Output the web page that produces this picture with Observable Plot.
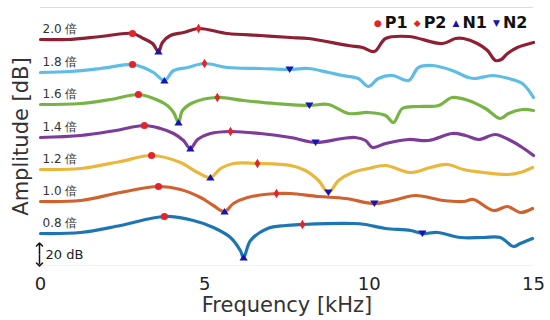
<!DOCTYPE html>
<html><head><meta charset="utf-8">
<script src="https://cdn.jsdelivr.net/npm/d3@7"></script>
<script src="https://cdn.jsdelivr.net/npm/@observablehq/plot@0.6"></script>
<style>
body{margin:0;background:#fff;font-family:"DejaVu Sans",sans-serif;}
#wrap{position:relative;width:550px;height:320px;overflow:hidden;}
#legend{position:absolute;top:13px;left:374px;font:bold 16px "DejaVu Sans",sans-serif;color:#111;white-space:nowrap;display:flex;align-items:center;}
#legend .sym{font-size:9px;margin-right:3px;}
#legend .nm{margin-right:6px;}
</style></head><body><div id="wrap"></div>
<script>
// ---- data (frequency kHz, amplitude dB as stacked in the figure) ----
const seriesLabels = ["0.8 倍","1.0 倍","1.2 倍","1.4 倍","1.6 倍","1.8 倍","2.0 倍"];

const f08 = [0,1.22,2.43,3.77,4.65,5.26,5.78,6.08,6.18,6.39,6.91,7.45,7.97,9.49,9.89,10.50,11.26,11.62,12.08,12.78,13.48,13.99,14.39,14.60,14.97];
const a08 = [32,33,40,49,45,38,28,15,8,25,37,40,41,42,41,37,35,32,33,28,28,28,19,22,27];

const f10 = [0,1.22,2.43,3.59,4.26,4.87,5.26,5.60,5.87,6.30,7.18,7.61,8.46,9.28,10.16,10.71,11.41,12.26,12.87,13.17,13.78,14.21,14.60,14.97];
const a10 = [64,65,73,79,76,68,60,54,62,68,72,72,69,67,62,65,70,65,64,66,55,59,53,57];

const f12 = [0,1.22,2.43,3.38,4.26,4.78,5.17,5.48,5.87,6.60,7.61,8.06,8.46,8.76,9.07,9.49,9.98,10.50,11.26,11.86,12.38,12.87,13.48,14.21,14.60,14.97];
const a12 = [96,97,104,110,103,93,88,97,102,102,100,95,85,73,85,93,97,100,93,98,101,96,93,91,93,98];

const f14 = [0,1.22,2.28,3.16,3.65,4.05,4.35,4.56,4.78,5.17,5.78,6.69,7.61,8.37,9.19,9.58,9.89,10.10,10.50,11.20,11.80,12.53,12.93,13.33,13.84,14.24,14.66,15.0];
const a14 = [128,130,135,140,137,132,125,117,126,132,134,132,128,123,127,128,125,118,122,126,125,132,130,126,131,126,118,110];

const f16 = [0,1.22,2.13,2.98,3.44,3.86,4.05,4.20,4.32,4.65,5.38,6.18,7.15,8.18,8.76,9.37,9.98,10.50,10.74,11.01,11.50,12.11,12.53,13.02,13.54,13.99,14.24,14.66,15.0];
const a16 = [161,162,166,171,167,160,153,143,155,163,168,165,162,160,161,152,153,150,143,157,159,160,168,165,157,147,152,156,155];

const f18 = [0,0.91,1.83,2.80,3.13,3.44,3.77,4.05,4.47,4.99,5.69,6.69,7.58,8.15,8.76,9.19,9.67,9.98,10.28,10.71,11.20,11.50,11.93,12.53,13.02,13.23,13.75,14.24,14.66,15.0];
const a18 = [193,194,197,201,198,193,185,195,198,202,198,197,196,197,193,190,187,179,187,190,185,198,200,195,188,187,190,187,182,168];

const f20 = [0,0.82,1.83,2.80,3.13,3.41,3.59,3.71,3.95,4.35,4.81,5.69,6.69,7.61,8.15,9.37,9.80,10.16,10.50,11.20,12.23,12.63,12.87,13.29,13.60,13.84,14.02,14.21,14.51,15.0];
const a20 = [226,226,229,232,227,222,214,223,230,233,237,232,230,228,227,220,218,214,227,229,222,227,227,222,215,205,206,212,218,223];

// characteristic points (kHz), per series in order 0.8 ... 2.0
const P1 = [3.77,3.59,3.38,3.16,2.98,2.80,2.80];
const P2 = [7.97,7.18,6.60,5.78,5.38,4.99,4.81];
const N1 = [6.18,5.60,5.17,4.56,4.20,3.77,3.59];
const N2 = [11.62,10.16,8.76,8.37,8.18,7.58,null];

const xTicks = [0,5,10,15];
const scaleBarDb = 20;
const yMax = 258;

// ---- styles ----
const lineColors = ["#1D76B3","#D0622F","#E9B73C","#7D3C98","#78B444","#5DBDE6","#8E1F35"];
const red = "#E3242B", blue = "#1515B5";

// ---- build ----
const freqs = [f08,f10,f12,f14,f16,f18,f20];
const amps  = [a08,a10,a12,a14,a16,a18,a20];
const rows = seriesLabels.flatMap((k,i)=>freqs[i].map((f,j)=>({k,f,a:amps[i][j]})));
const starts = seriesLabels.map((k,i)=>({k,f:freqs[i][0],a:amps[i][0]}));

function pts(list){
  const out=[];
  list.forEach((t,i)=>{
    if(t==null) return;
    const j = freqs[i].findIndex(v=>Math.abs(v-t)<0.005);
    out.push({f:freqs[i][j], a:amps[i][j]});
  });
  return out;
}
const rr = s => Math.sqrt(s/Math.PI);
const symDiamond = {draw(c,s){const r=rr(s);c.moveTo(0,-r*1.35);c.lineTo(r*0.8,0);c.lineTo(0,r*1.35);c.lineTo(-r*0.8,0);c.closePath();}};
const symUp = {draw(c,s){const r=rr(s);c.moveTo(0,-r*0.95);c.lineTo(r*1.15,r*0.8);c.lineTo(-r*1.15,r*0.8);c.closePath();}};
const symDown = {draw(c,s){const r=rr(s);c.moveTo(0,r*0.95);c.lineTo(r*1.15,-r*0.8);c.lineTo(-r*1.15,-r*0.8);c.closePath();}};

const mid = 1 + scaleBarDb/2;
const bar = [{x:0, y1:mid, y2:1+scaleBarDb},{x:0, y1:mid, y2:1}];

const chart = Plot.plot({
  width:550, height:320,
  marginLeft:40, marginRight:17, marginTop:7, marginBottom:55,
  style:{background:"#fff", fontFamily:"DejaVu Sans, sans-serif"},
  x:{domain:[0,15]},
  y:{domain:[0,yMax], axis:null},
  color:{domain:seriesLabels, range:lineColors},
  marks:[
    Plot.ruleY([yMax],{stroke:"#dcdcdc", strokeWidth:1}),
    Plot.ruleY([0],{stroke:"#f2f2f2", strokeWidth:1}),
    Plot.line(rows,{x:"f", y:"a", z:"k", stroke:"k", strokeWidth:3.2, curve:"catmull-rom"}),
    Plot.dot(pts(P1),{x:"f", y:"a", r:3.6, fill:red, symbol:"circle"}),
    Plot.dot(pts(P2),{x:"f", y:"a", r:3.6, fill:red, symbol:symDiamond}),
    Plot.dot(pts(N1),{x:"f", y:"a", r:3.6, fill:blue, symbol:symUp}),
    Plot.dot(pts(N2),{x:"f", y:"a", r:3.6, fill:blue, symbol:symDown}),
    Plot.text(starts,{x:"f", y:"a", text:"k", dx:2, dy:-10, textAnchor:"start", fontSize:12, fill:"#333"}),
    Plot.link(bar,{x1:"x", x2:"x", y1:"y1", y2:"y2", dx:-1, stroke:"#111", strokeWidth:1.5, markerEnd:"arrow"}),
    Plot.text([{x:0, y:mid, t:scaleBarDb+" dB"}],{x:"x", y:"y", text:"t", dx:5, textAnchor:"start", fontSize:13, fill:"#222"}),
    Plot.axisX({ticks:xTicks, tickSize:0, tickPadding:12, fontSize:18, label:null, fill:"#222"}),
    Plot.text(["Frequency [kHz]"],{frameAnchor:"bottom", lineAnchor:"middle", dy:40, fontSize:21, fill:"#333"}),
    Plot.text(["Amplitude [dB]"],{frameAnchor:"left", textAnchor:"middle", lineAnchor:"middle", rotate:-90, dx:-19, fontSize:21, fill:"#333"})
  ]
});
const wrap = document.getElementById("wrap");
wrap.appendChild(chart);

const legendItems = [{n:"P1",s:"●",c:red},{n:"P2",s:"◆",c:red},{n:"N1",s:"▲",c:blue},{n:"N2",s:"▼",c:blue}];
const lg = document.createElement("div"); lg.id="legend";
legendItems.forEach(it=>{
  const a=document.createElement("span"); a.className="sym"; a.style.color=it.c; a.textContent=it.s; lg.appendChild(a);
  const b=document.createElement("span"); b.className="nm"; b.textContent=it.n; lg.appendChild(b);
});
wrap.appendChild(lg);
</script></body></html>
